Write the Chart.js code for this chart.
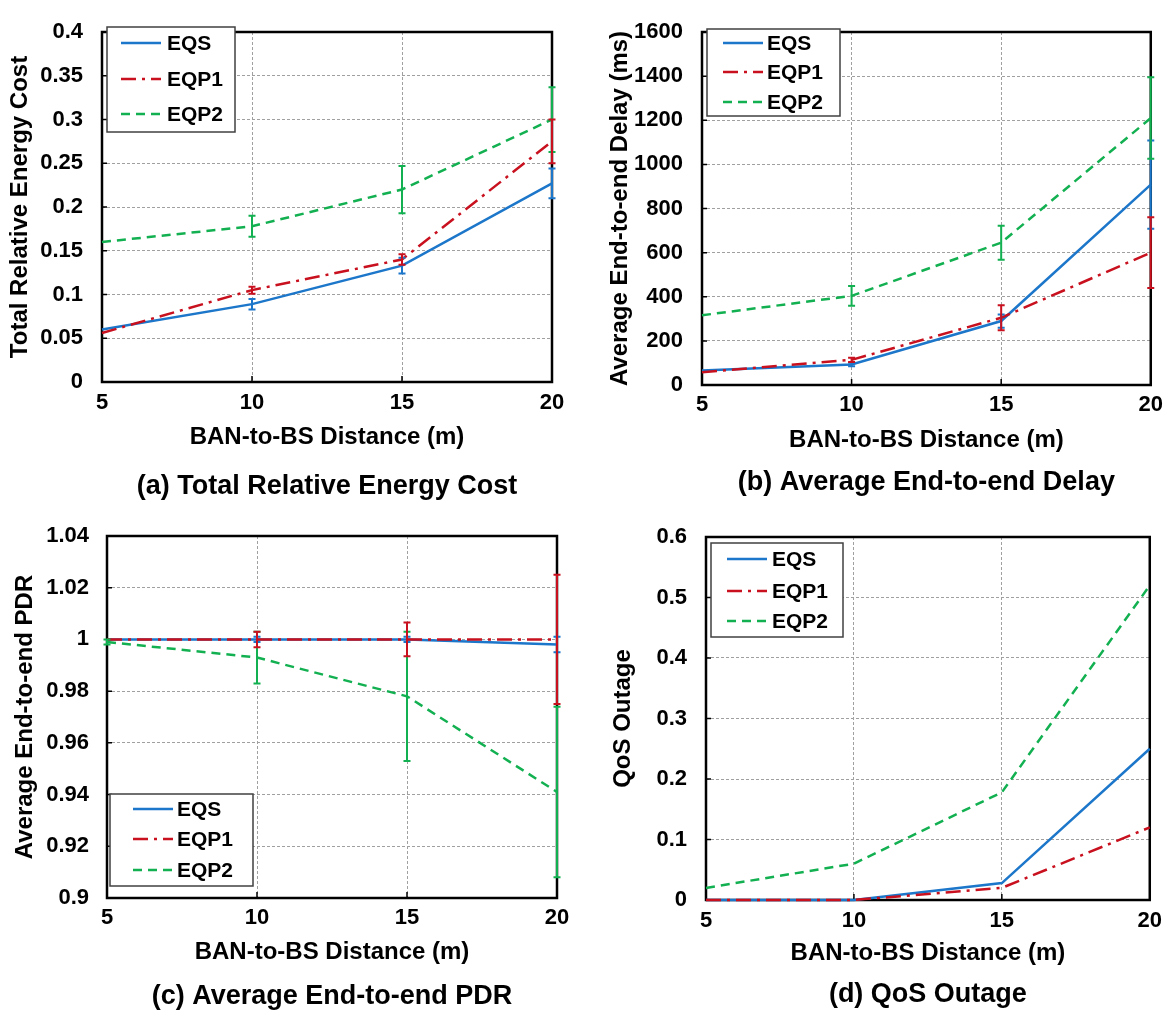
<!DOCTYPE html>
<html>
<head>
<meta charset="utf-8">
<title>BAN-to-BS distance results</title>
<script src="https://cdn.jsdelivr.net/npm/chart.js@4.4.1/dist/chart.umd.min.js"></script>
<style>
  html, body { margin: 0; padding: 0; background: #fff; }
  body { width: 1170px; height: 1013px; position: relative; overflow: hidden; }
  canvas { position: absolute; display: block; }
</style>
</head>
<body>
<canvas id="chartA" width="585" height="503" style="left:0;top:0"></canvas>
<canvas id="chartB" width="585" height="499" style="left:585px;top:0"></canvas>
<canvas id="chartC" width="585" height="508" style="left:0;top:505px"></canvas>
<canvas id="chartD" width="585" height="506" style="left:585px;top:505px"></canvas>
<script>
// x values shared by every panel
const distances = [5, 10, 15, 20];
const seriesNames = ['EQS', 'EQP1', 'EQP2'];

// (a) total relative energy cost, with error half-widths
const energyEQS = [0.060, 0.089, 0.133, 0.227];
const energyEQP1 = [0.056, 0.105, 0.140, 0.275];
const energyEQP2 = [0.160, 0.178, 0.220, 0.300];
const energyErrEQS = [0, 0.006, 0.009, 0.017];
const energyErrEQP1 = [0, 0.004, 0.006, 0.025];
const energyErrEQP2 = [0, 0.012, 0.027, 0.037];

// (b) average end-to-end delay in ms
const delayEQS = [66, 93, 290, 908];
const delayEQP1 = [58, 114, 305, 600];
const delayEQP2 = [316, 404, 645, 1210];
const delayErrEQS = [0, 8, 30, 200];
const delayErrEQP1 = [0, 10, 57, 160];
const delayErrEQP2 = [0, 45, 77, 185];

// (c) average end-to-end PDR
const pdrEQS = [1, 1, 1, 0.998];
const pdrEQP1 = [1, 1, 1, 1];
const pdrEQP2 = [0.999, 0.993, 0.978, 0.941];
const pdrErrEQS = [0, 0.001, 0.001, 0.003];
const pdrErrEQP1 = [0, 0.003, 0.0065, 0.025];
const pdrErrEQP2 = [0.001, 0.010, 0.025, 0.033];

// (d) QoS outage
const outageEQS = [0, 0, 0.028, 0.25];
const outageEQP1 = [0, 0, 0.02, 0.12];
const outageEQP2 = [0.02, 0.06, 0.178, 0.52];

// axis ticks
const distanceTicks = [5, 10, 15, 20];
const energyTicks = [0, 0.05, 0.1, 0.15, 0.2, 0.25, 0.3, 0.35, 0.4];
const delayTicks = [0, 200, 400, 600, 800, 1000, 1200, 1400, 1600];
const pdrTicks = [0.9, 0.92, 0.94, 0.96, 0.98, 1, 1.02, 1.04];
const outageTicks = [0, 0.1, 0.2, 0.3, 0.4, 0.5, 0.6];

const FONT = "'Liberation Sans', Arial, Helvetica, sans-serif";
Chart.defaults.font.family = FONT;
Chart.defaults.color = '#000';

const seriesColors = ['#1C76C9', '#C8101E', '#12B050'];
const seriesDash = [[], [15, 6, 3, 6], [9, 6]];
const seriesOrder = [2, 1, 0]; // EQP2 on top, EQS at the bottom

// frame, inward ticks, error bars and boxed legend
const panelDecor = {
  id: 'panelDecor',
  beforeDatasetsDraw(chart) {
    const {ctx, chartArea: a, scales} = chart;
    ctx.save();
    ctx.strokeStyle = '#000';
    ctx.lineWidth = 1.5;
    ctx.beginPath();
    scales.y.ticks.forEach(t => {
      const py = scales.y.getPixelForValue(t.value);
      ctx.moveTo(a.left, py);
      ctx.lineTo(a.left + 5, py);
    });
    scales.x.ticks.forEach(t => {
      const px = scales.x.getPixelForValue(t.value);
      ctx.moveTo(px, a.bottom);
      ctx.lineTo(px, a.bottom - 6);
    });
    ctx.stroke();
    ctx.lineWidth = 2.5;
    ctx.strokeRect(a.left, a.top, a.right - a.left, a.bottom - a.top);
    ctx.restore();
  },
  afterDatasetsDraw(chart, args, opts) {
    const {ctx} = chart;
    const xs = chart.scales.x, ys = chart.scales.y;
    const datasets = chart.data.datasets;
    ctx.save();
    if (opts.errors) {
      [0, 2, 1].forEach(i => {
        const err = opts.errors[i];
        ctx.strokeStyle = datasets[i].borderColor;
        ctx.lineWidth = 2;
        ctx.setLineDash([]);
        datasets[i].data.forEach((p, k) => {
          if (!err[k]) return;
          const px = xs.getPixelForValue(p.x);
          const hi = ys.getPixelForValue(p.y + err[k]);
          const lo = ys.getPixelForValue(p.y - err[k]);
          ctx.beginPath();
          ctx.moveTo(px, hi); ctx.lineTo(px, lo);
          ctx.moveTo(px - 3.5, hi); ctx.lineTo(px + 3.5, hi);
          ctx.moveTo(px - 3.5, lo); ctx.lineTo(px + 3.5, lo);
          ctx.stroke();
        });
      });
    }
    const lg = opts.legend;
    if (lg) {
      const [l, t, r, b] = lg.box;
      ctx.fillStyle = '#fff';
      ctx.fillRect(l, t, r - l, b - t);
      ctx.strokeStyle = '#404040';
      ctx.lineWidth = 1.5;
      ctx.strokeRect(l, t, r - l, b - t);
      ctx.font = 'bold 21px ' + FONT;
      ctx.textBaseline = 'middle';
      ctx.textAlign = 'left';
      datasets.forEach((d, i) => {
        const y = lg.rows[i];
        ctx.strokeStyle = d.borderColor;
        ctx.lineWidth = d.borderWidth;
        ctx.setLineDash(d.borderDash);
        ctx.beginPath();
        ctx.moveTo(lg.x0, y);
        ctx.lineTo(lg.x1, y);
        ctx.stroke();
        ctx.setLineDash([]);
        ctx.fillStyle = '#000';
        ctx.fillText(d.label, lg.tx, y + 1);
      });
    }
    ctx.restore();
  }
};

const panels = [
  {
    canvas: 'chartA',
    values: [energyEQS, energyEQP1, energyEQP2],
    errors: [energyErrEQS, energyErrEQP1, energyErrEQP2],
    yTicks: energyTicks,
    yTitle: 'Total Relative Energy Cost',
    caption: '(a) Total Relative Energy Cost',
    geom: {padTop: 18, padRight: 33, yWidth: 102, yTitlePad: 6, yTickPad: 19, xHeight: 69, xTickPad: 8, capHeight: 52},
    legend: {box: [107, 27, 235, 132], x0: 121, x1: 161, tx: 167, rows: [43, 79, 114]}
  },
  {
    canvas: 'chartB',
    values: [delayEQS, delayEQP1, delayEQP2],
    errors: [delayErrEQS, delayErrEQP1, delayErrEQP2],
    yTicks: delayTicks,
    yTitle: 'Average End-to-end Delay (ms)',
    caption: '(b) Average End-to-end Delay',
    geom: {padTop: 21, padRight: 18, yWidth: 117, yTitlePad: 21, yTickPad: 19, xHeight: 69, xTickPad: 7, capHeight: 45},
    legend: {box: [122, 29, 255, 116], x0: 138, x1: 178, tx: 182, rows: [43, 72, 102]}
  },
  {
    canvas: 'chartC',
    values: [pdrEQS, pdrEQP1, pdrEQP2],
    errors: [pdrErrEQS, pdrErrEQP1, pdrErrEQP2],
    yTicks: pdrTicks,
    yTitle: 'Average End-to-end PDR',
    caption: '(c) Average End-to-end PDR',
    geom: {padTop: 28, padRight: 28, yWidth: 107, yTitlePad: 11, yTickPad: 18, xHeight: 68, xTickPad: 7, capHeight: 47},
    legend: {box: [110, 289, 253, 381], x0: 133, x1: 173, tx: 177, rows: [304, 334, 365]}
  },
  {
    canvas: 'chartD',
    values: [outageEQS, outageEQP1, outageEQP2],
    errors: null,
    yTicks: outageTicks,
    yTitle: 'QoS Outage',
    caption: '(d) QoS Outage',
    geom: {padTop: 30, padRight: 18, yWidth: 121, yTitlePad: 24, yTickPad: 19, xHeight: 67, xTickPad: 8, capHeight: 44},
    legend: {box: [126, 38, 258, 132], x0: 142, x1: 182, tx: 187, rows: [54, 86, 116]}
  }
];

const tickFont = {size: 22, weight: 'bold', lineHeight: '26px'};
const titleFont = {size: 24, weight: 'bold', lineHeight: '28px'};
const captionFont = {size: 27, weight: 'bold', lineHeight: '32px'};

function makePanel(p) {
  const g = p.geom;
  const datasets = seriesNames.map((name, i) => ({
    label: name,
    data: distances.map((d, k) => ({x: d, y: p.values[i][k]})),
    borderColor: seriesColors[i],
    backgroundColor: seriesColors[i],
    borderWidth: 2.5,
    borderDash: seriesDash[i],
    pointRadius: 0,
    tension: 0,
    clip: false,
    order: seriesOrder[i],
    xAxisID: 'x',
    yAxisID: 'y'
  }));

  return new Chart(document.getElementById(p.canvas), {
    type: 'line',
    data: {datasets},
    plugins: [panelDecor],
    options: {
      responsive: false,
      animation: false,
      events: [],
      layout: {padding: {top: g.padTop, right: g.padRight, left: 0, bottom: 0}},
      plugins: {
        legend: {display: false},
        tooltip: {enabled: false},
        panelDecor: {errors: p.errors, legend: p.legend}
      },
      scales: {
        x: {
          type: 'linear',
          position: 'bottom',
          min: distanceTicks[0],
          max: distanceTicks[distanceTicks.length - 1],
          afterBuildTicks: s => { s.ticks = distanceTicks.map(v => ({value: v})); },
          afterFit: s => { s.height = g.xHeight; },
          ticks: {font: tickFont, padding: g.xTickPad, maxRotation: 0, autoSkip: false, callback: v => String(v)},
          grid: {color: '#a0a0a0', lineWidth: 1, drawTicks: false},
          border: {display: false, dash: [3, 2]},
          title: {display: true, text: 'BAN-to-BS Distance (m)', font: titleFont, padding: {top: 0, bottom: 0}}
        },
        cap: {
          axis: 'x',
          type: 'linear',
          position: 'bottom',
          weight: 1,
          afterFit: s => { s.height = g.capHeight; },
          ticks: {display: false},
          grid: {display: false},
          border: {display: false},
          title: {display: true, text: p.caption, font: captionFont, padding: {top: 0, bottom: 0}}
        },
        y: {
          type: 'linear',
          position: 'left',
          min: p.yTicks[0],
          max: p.yTicks[p.yTicks.length - 1],
          afterBuildTicks: s => { s.ticks = p.yTicks.map(v => ({value: v})); },
          afterFit: s => { s.width = g.yWidth; },
          ticks: {font: tickFont, padding: g.yTickPad, callback: v => String(v)},
          grid: {color: '#a0a0a0', lineWidth: 1, drawTicks: false},
          border: {display: false, dash: [3, 2]},
          title: {display: true, text: p.yTitle, font: titleFont, padding: {top: g.yTitlePad, bottom: 0}}
        }
      }
    }
  });
}

panels.forEach(makePanel);
</script>
</body>
</html>
